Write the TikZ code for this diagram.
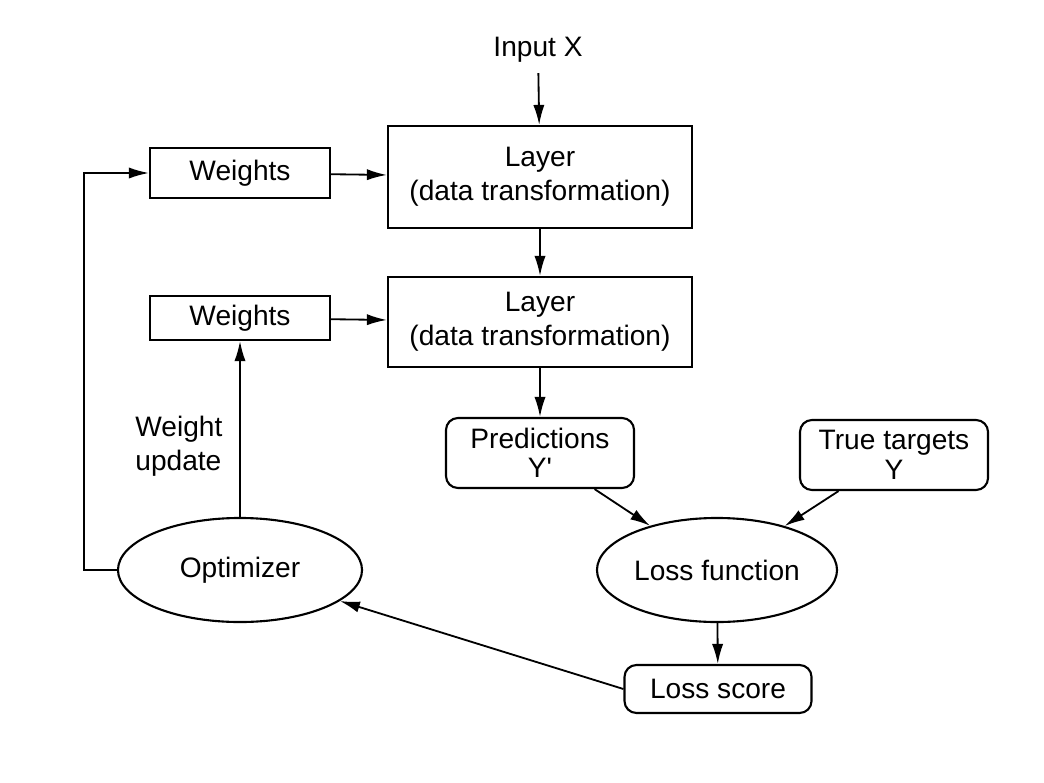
\documentclass[tikz,border=0pt]{standalone}
\usepackage{fontspec}
\setmainfont{Liberation Sans}
\usetikzlibrary{arrows.meta,shapes.geometric}
\tikzset{
  box/.style={draw, line width=1.5pt, align=center, inner sep=0pt},
  roundbox/.style={box, rounded corners=0.3cm},
  oval/.style={draw, ellipse, line width=1.5pt, inner sep=0pt, align=center},
  flow/.style={-{Latex[length=0.5cm,width=0.28cm]}, line width=1.3pt},
}
\begin{document}
\begin{tikzpicture}[x=0.025cm, y=-0.025cm, font=\fontsize{20}{24}\selectfont]
  \useasboundingbox (0,0) rectangle (1044,782);

  % input and the two layers
  \node (input) at (538,50) {Input X};
  \node[box, minimum width=7.6cm, minimum height=2.55cm] (layer1) at (540,177) {Layer\\(data transformation)};
  \node[box, minimum width=7.6cm, minimum height=2.25cm] (layer2) at (540,322) {Layer\\(data transformation)};

  % weights
  \node[box, minimum width=4.5cm, minimum height=1.25cm] (weights1) at (240,173) {Weights};
  \node[box, minimum width=4.5cm, minimum height=1.1cm] (weights2) at (240,318) {Weights};

  % predictions and targets
  \node[roundbox, minimum width=4.7cm, minimum height=1.75cm, font=\fontsize{20}{21}\selectfont] (pred) at (540,453) {Predictions\\Y\textquotesingle};
  \node[roundbox, minimum width=4.7cm, minimum height=1.75cm, font=\fontsize{20}{21}\selectfont] (targets) at (894,455) {True targets\\Y};

  % loss and optimizer
  \node[oval, minimum width=6cm, minimum height=2.6cm] (loss) at (717,570) {Loss function};
  \node[oval, minimum width=6.1cm, minimum height=2.6cm] (optimizer) at (240,570) {Optimizer};
  \node[roundbox, minimum width=4.675cm, minimum height=1.2cm] (score) at (718,689) {Loss score};

  % forward pass
  \draw[flow, shorten <=4pt] (input) -- (layer1);
  \draw[flow] (layer1) -- (layer2);
  \draw[flow] (layer2) -- (pred);
  \draw[flow] (weights1) -- (layer1);
  \draw[flow] (weights2) -- (layer2);
  \draw[flow] (pred) -- (loss);
  \draw[flow] (targets) -- (loss);
  \draw[flow] (loss) -- (score);

  % feedback
  \draw[flow] (score.west) -- (optimizer);
  \draw[flow] (optimizer) -- node[pos=0.4, left=0.3cm, align=left] {Weight\\update} (weights2);
  \draw[flow] (optimizer.west) -- ++(-33,0) |- (weights1.west);
\end{tikzpicture}
\end{document}
